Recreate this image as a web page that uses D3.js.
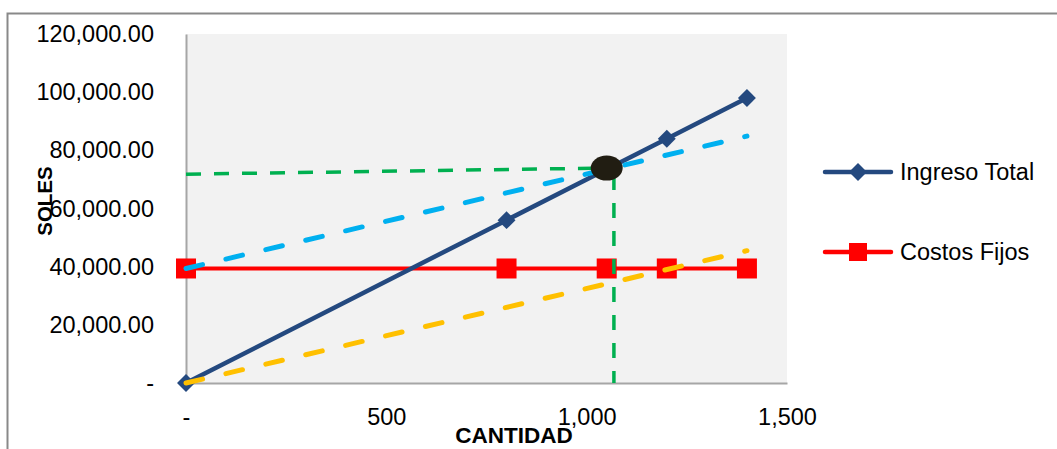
<!DOCTYPE html>
<html>
<head>
<meta charset="utf-8">
<script src="https://cdn.jsdelivr.net/npm/d3@7"></script>
<style>
  html, body { margin: 0; padding: 0; background: #fff; }
  svg { display: block; font-family: "Liberation Sans", Arial, sans-serif; }
</style>
</head>
<body>
<svg id="chart" width="1057" height="449"></svg>
<script>
// Break-even chart: revenue vs. fixed, variable and total costs
const cantidad      = [0, 800, 1050, 1200, 1400];
const ingresoTotal  = [0, 56000, 73500, 84000, 98000];
const costosFijos   = [39375, 39375, 39375, 39375, 39375];

// Cost lines drawn as dashed guides (not in the legend)
const cantidadCosto = [0, 1400];
const costoVariable = [0, 45500];
const costoTotal    = [39375, 84875];

// Break-even point and its reference lines
const puntoEquilibrio = { q: 1050, v: 73900 };
const guiaHorizontal  = [[0, 71800], [1040, 73900]];
const guiaVertical    = [[1068, 71500], [1068, 0]];

const yTicks = [0, 20000, 40000, 60000, 80000, 100000, 120000];
const xTicks = [0, 500, 1000, 1500];

const svg = d3.select("#chart");

const x = d3.scaleLinear().domain([0, 1500]).range([186, 787]);
const y = d3.scaleLinear().domain([0, 120000]).range([383, 34]);

// outer frame
svg.append("path")
  .attr("d", "M7.5,449 L7.5,13.5 L1057,13.5")
  .attr("fill", "none").attr("stroke", "#898989").attr("stroke-width", 2);

// plot area
svg.append("rect")
  .attr("x", x(0)).attr("y", y(120000))
  .attr("width", x(1500) - x(0)).attr("height", y(0) - y(120000))
  .attr("fill", "#f2f2f2");

// axes
const fmtY = v => v === 0 ? "-" : d3.format(",.2f")(v);
const fmtX = v => v === 0 ? "-" : d3.format(",")(v);

const yAxis = svg.append("g").attr("transform", `translate(${x(0)},0)`)
  .call(d3.axisLeft(y).tickValues(yTicks).tickFormat(fmtY).tickSize(0).tickPadding(32));
const xAxis = svg.append("g").attr("transform", `translate(0,${y(0)})`)
  .call(d3.axisBottom(x).tickValues(xTicks).tickFormat(fmtX).tickSize(0).tickPadding(25));

[yAxis, xAxis].forEach(g => {
  g.select(".domain").attr("stroke", "#a6a6a6").attr("stroke-width", 2);
  g.selectAll("text").attr("fill", "#000")
    .style("font-family", "'Liberation Sans', Arial, sans-serif")
    .style("font-size", "23.5px");
});

// axis titles
svg.append("text")
  .attr("transform", "translate(52,201) rotate(-90)")
  .attr("text-anchor", "middle")
  .style("font-weight", "bold").style("font-size", "20.5px")
  .text("SOLES");
svg.append("text")
  .attr("x", 514).attr("y", 443)
  .attr("text-anchor", "middle")
  .style("font-weight", "bold").style("font-size", "22.5px")
  .text("CANTIDAD");

const line = d3.line().x(d => x(d[0])).y(d => y(d[1]));
const clr = { ingreso: "#24497f", fijos: "#ff0000", total: "#00b0f0", variable: "#ffc000", guia: "#00b050" };

const diamond = d3.symbol().type(d3.symbolDiamond2).size(205);

// Costos Fijos series
const fijos = cantidad.map((q, i) => [q, costosFijos[i]]);
svg.append("path").attr("d", line(fijos))
  .attr("fill", "none").attr("stroke", clr.fijos).attr("stroke-width", 4);
svg.selectAll(".sq").data(fijos).join("rect")
  .attr("x", d => x(d[0]) - 10).attr("y", d => y(d[1]) - 10)
  .attr("width", 20).attr("height", 20).attr("fill", clr.fijos);

// Ingreso Total series
const ingreso = cantidad.map((q, i) => [q, ingresoTotal[i]]);
svg.append("path").attr("d", line(ingreso))
  .attr("fill", "none").attr("stroke", clr.ingreso).attr("stroke-width", 4.5);
svg.selectAll(".dm").data(ingreso).join("path")
  .attr("transform", d => `translate(${x(d[0])},${y(d[1])})`)
  .attr("d", diamond).attr("fill", clr.ingreso);

// dashed cost lines
const dashed = (pts, color) => svg.append("path").attr("d", line(pts))
  .attr("fill", "none").attr("stroke", color).attr("stroke-width", 5)
  .attr("stroke-linecap", "round").attr("stroke-dasharray", "17,24");
dashed(cantidadCosto.map((q, i) => [q, costoTotal[i]]), clr.total);
dashed(cantidadCosto.map((q, i) => [q, costoVariable[i]]), clr.variable);

// break-even guides
[guiaHorizontal, guiaVertical].forEach(pts => {
  svg.append("path").attr("d", line(pts))
    .attr("fill", "none").attr("stroke", clr.guia).attr("stroke-width", 3.5)
    .attr("stroke-dasharray", "15,13");
});

// break-even marker
svg.append("ellipse")
  .attr("cx", x(puntoEquilibrio.q)).attr("cy", y(puntoEquilibrio.v))
  .attr("rx", 16).attr("ry", 12.5).attr("fill", "#211d12");

// legend
const legend = [
  { name: "Ingreso Total", color: clr.ingreso, shape: "diamond", cy: 172 },
  { name: "Costos Fijos", color: clr.fijos, shape: "square", cy: 252 }
];
const lg = svg.selectAll(".lg").data(legend).join("g")
  .attr("transform", d => `translate(0,${d.cy})`);
lg.append("line").attr("x1", 825).attr("x2", 891)
  .attr("stroke", d => d.color).attr("stroke-width", 4.5).attr("stroke-linecap", "round");
lg.filter(d => d.shape === "diamond").append("path")
  .attr("transform", "translate(858,0)").attr("d", diamond).attr("fill", d => d.color);
lg.filter(d => d.shape === "square").append("rect")
  .attr("x", 849).attr("y", -9).attr("width", 18).attr("height", 18).attr("fill", d => d.color);
lg.append("text").attr("x", 900).attr("dy", "0.35em")
  .style("font-size", "23.5px").text(d => d.name);
</script>
</body>
</html>
